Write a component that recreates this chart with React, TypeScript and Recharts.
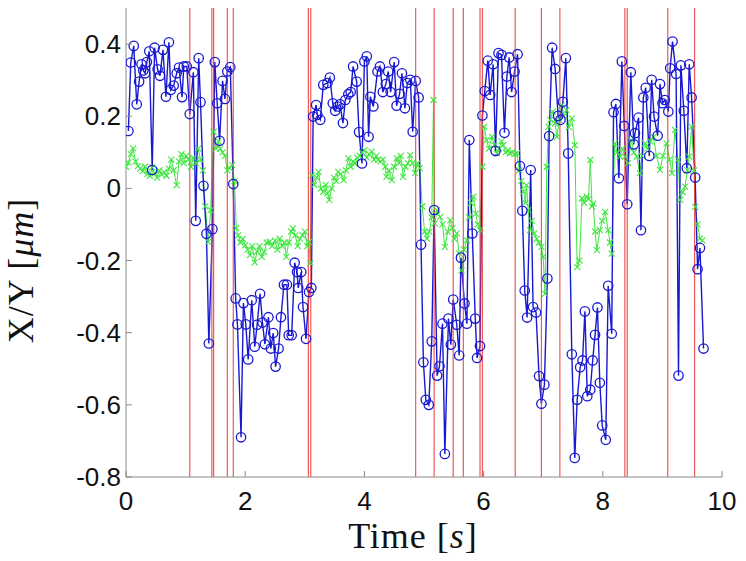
import { LineChart, Line, XAxis, YAxis, ReferenceLine } from 'recharts';

const BLUE = '#1818d2';
const GREEN = '#3ee63e';
const RED = '#ec3c3c';
const AXIS = '#8a8a8a';

// position trace (blue, circles): [time s, value um]
const bluePts: Array<[number, number]> = [
  [0.04, 0.159], [0.08, 0.349], [0.13, 0.395], [0.18, 0.233], [0.22, 0.296], [0.26, 0.344],
  [0.29, 0.327], [0.32, 0.319], [0.35, 0.35], [0.39, 0.38], [0.44, 0.051], [0.48, 0.39],
  [0.53, 0.33], [0.57, 0.312], [0.62, 0.384], [0.67, 0.254], [0.72, 0.405], [0.75, 0.273],
  [0.8, 0.285], [0.85, 0.319], [0.89, 0.335], [0.94, 0.253], [0.97, 0.338], [1.02, 0.338],
  [1.07, 0.206], [1.13, 0.322], [1.17, -0.09], [1.22, 0.361], [1.25, 0.239], [1.3, 0.007],
  [1.35, -0.126], [1.39, -0.43], [1.45, -0.113], [1.49, 0.35], [1.53, 0.236], [1.57, 0.132],
  [1.62, 0.298], [1.66, 0.248], [1.7, 0.324], [1.75, 0.336], [1.8, 0.012], [1.84, -0.305],
  [1.87, -0.377], [1.93, -0.69], [1.97, -0.318], [2.01, -0.377], [2.05, -0.474], [2.11, -0.31],
  [2.16, -0.439], [2.2, -0.378], [2.25, -0.292], [2.29, -0.372], [2.33, -0.432], [2.39, -0.357],
  [2.43, -0.444], [2.47, -0.401], [2.51, -0.494], [2.56, -0.444], [2.6, -0.357], [2.65, -0.267],
  [2.7, -0.267], [2.73, -0.407], [2.78, -0.407], [2.83, -0.206], [2.87, -0.232], [2.89, -0.276],
  [2.94, -0.232], [2.97, -0.329], [3.02, -0.417], [3.07, -0.287], [3.11, -0.276], [3.14, 0.199],
  [3.19, 0.231], [3.21, 0.204], [3.26, 0.19], [3.31, 0.287], [3.38, 0.292], [3.42, 0.307],
  [3.47, 0.236], [3.51, 0.215], [3.55, 0.227], [3.59, 0.233], [3.64, 0.181], [3.68, 0.245],
  [3.73, 0.261], [3.77, 0.267], [3.81, 0.338], [3.87, 0.296], [3.91, 0.156], [3.96, 0.069],
  [4.0, 0.352], [4.04, 0.366], [4.07, 0.143], [4.1, 0.254], [4.15, 0.227], [4.22, 0.324],
  [4.26, 0.338], [4.31, 0.267], [4.36, 0.289], [4.4, 0.324], [4.44, 0.267], [4.5, 0.35],
  [4.54, 0.229], [4.59, 0.262], [4.63, 0.319], [4.68, 0.222], [4.72, 0.292], [4.77, 0.301],
  [4.81, 0.157], [4.86, 0.298], [4.91, 0.252], [4.95, -0.156], [4.99, -0.482], [5.03, -0.586],
  [5.08, -0.6], [5.13, -0.424], [5.17, -0.06], [5.22, -0.519], [5.26, -0.493], [5.31, -0.375],
  [5.35, -0.736], [5.41, -0.361], [5.45, -0.433], [5.49, -0.308], [5.55, -0.378], [5.59, -0.463],
  [5.62, -0.192], [5.68, -0.319], [5.72, -0.375], [5.76, 0.134], [5.81, -0.125], [5.86, -0.361],
  [5.89, -0.47], [5.94, -0.437], [5.98, 0.202], [6.02, 0.27], [6.07, 0.354], [6.11, 0.259],
  [6.16, 0.344], [6.2, 0.104], [6.25, 0.375], [6.3, 0.37], [6.35, 0.154], [6.39, 0.31],
  [6.43, 0.363], [6.47, 0.267], [6.52, 0.324], [6.57, 0.372], [6.61, 0.062], [6.65, -0.062],
  [6.69, -0.283], [6.73, -0.358], [6.79, 0.051], [6.83, -0.329], [6.88, -0.344], [6.93, -0.52],
  [6.97, -0.597], [7.02, -0.544], [7.07, -0.25], [7.1, 0.145], [7.15, 0.39], [7.2, 0.331],
  [7.25, 0.201], [7.29, 0.19], [7.33, 0.24], [7.38, 0.361], [7.42, 0.097], [7.48, -0.46],
  [7.53, -0.747], [7.57, -0.586], [7.62, -0.496], [7.66, -0.477], [7.7, -0.341], [7.74, -0.576],
  [7.79, -0.558], [7.83, -0.477], [7.87, -0.406], [7.91, -0.33], [7.95, -0.539], [7.99, -0.657],
  [8.05, -0.697], [8.09, -0.27], [8.15, -0.403], [8.18, 0.211], [8.22, 0.234], [8.27, 0.028],
  [8.32, 0.352], [8.36, 0.173], [8.41, -0.044], [8.47, 0.322], [8.52, 0.122], [8.54, 0.153],
  [8.6, 0.196], [8.64, -0.116], [8.68, 0.252], [8.72, 0.279], [8.78, 0.09], [8.82, 0.301],
  [8.86, 0.199], [8.92, 0.146], [8.96, 0.289], [9.0, 0.236], [9.04, 0.245], [9.1, 0.213],
  [9.13, 0.333], [9.17, 0.407], [9.23, 0.317], [9.27, -0.519], [9.31, 0.341], [9.36, 0.215],
  [9.41, 0.056], [9.45, 0.344], [9.49, 0.252], [9.55, 0.03], [9.59, -0.224], [9.63, -0.165],
  [9.69, -0.444],
];

// second trace (green, crosses)
const greenPts: Array<[number, number]> = [
  [0.0, 0.06], [0.04, 0.072], [0.08, 0.095], [0.12, 0.111], [0.16, 0.075], [0.2, 0.062],
  [0.24, 0.055], [0.28, 0.048], [0.32, 0.06], [0.36, 0.04], [0.4, 0.035], [0.44, 0.058],
  [0.48, 0.042], [0.52, 0.03], [0.56, 0.05], [0.6, 0.038], [0.64, 0.045], [0.68, 0.035],
  [0.72, 0.055], [0.76, 0.08], [0.8, 0.05], [0.85, 0.009], [0.89, 0.075], [0.93, 0.095],
  [0.97, 0.07], [1.01, 0.09], [1.05, 0.08], [1.09, 0.06], [1.13, 0.085], [1.17, 0.07],
  [1.21, 0.11], [1.25, 0.08], [1.29, 0.05], [1.33, -0.05], [1.38, -0.148], [1.42, -0.06],
  [1.47, 0.157], [1.51, 0.11], [1.55, 0.13], [1.58, 0.11], [1.62, 0.1], [1.66, 0.09],
  [1.7, 0.05], [1.74, 0.056], [1.78, 0.065], [1.82, 0.02], [1.85, -0.11], [1.88, -0.13],
  [1.92, -0.15], [1.96, -0.14], [2.0, -0.157], [2.04, -0.17], [2.08, -0.185], [2.12, -0.16],
  [2.16, -0.205], [2.2, -0.175], [2.24, -0.16], [2.28, -0.19], [2.32, -0.176], [2.36, -0.15],
  [2.41, -0.148], [2.45, -0.16], [2.5, -0.145], [2.54, -0.17], [2.58, -0.139], [2.62, -0.16],
  [2.66, -0.15], [2.69, -0.19], [2.73, -0.15], [2.77, -0.12], [2.8, -0.111], [2.84, -0.13],
  [2.88, -0.16], [2.92, -0.139], [2.96, -0.13], [3.0, -0.12], [3.04, -0.16], [3.07, -0.148],
  [3.09, -0.207], [3.12, 0.037], [3.16, 0.01], [3.2, 0.03], [3.23, 0.046], [3.27, 0.0],
  [3.31, -0.01], [3.35, 0.01], [3.38, -0.014], [3.41, -0.032], [3.45, 0.0], [3.49, 0.03],
  [3.53, 0.02], [3.56, 0.046], [3.6, 0.04], [3.65, 0.023], [3.69, 0.05], [3.73, 0.083],
  [3.77, 0.06], [3.81, 0.075], [3.84, 0.069], [3.88, 0.085], [3.92, 0.09], [3.96, 0.1],
  [4.0, 0.106], [4.04, 0.085], [4.08, 0.095], [4.12, 0.102], [4.16, 0.08], [4.2, 0.09],
  [4.23, 0.079], [4.27, 0.075], [4.31, 0.08], [4.35, 0.06], [4.37, 0.032], [4.41, 0.05],
  [4.46, 0.023], [4.5, 0.06], [4.54, 0.083], [4.58, 0.07], [4.61, 0.09], [4.65, 0.032],
  [4.69, 0.06], [4.73, 0.07], [4.77, 0.092], [4.81, 0.07], [4.85, 0.042], [4.89, 0.07],
  [4.93, 0.056], [4.97, -0.05], [5.01, -0.12], [5.05, -0.139], [5.09, -0.12], [5.13, -0.08],
  [5.16, 0.245], [5.18, -0.097], [5.22, -0.06], [5.27, -0.079], [5.31, -0.1], [5.35, -0.162],
  [5.4, -0.12], [5.44, -0.088], [5.48, -0.11], [5.51, -0.14], [5.55, -0.125], [5.59, -0.18],
  [5.63, -0.227], [5.67, -0.17], [5.72, -0.144], [5.76, -0.08], [5.79, -0.04], [5.83, -0.023],
  [5.87, -0.07], [5.9, -0.1], [5.94, -0.116], [5.98, 0.06], [6.01, 0.171], [6.05, 0.134],
  [6.09, 0.11], [6.14, 0.143], [6.18, 0.12], [6.22, 0.097], [6.26, 0.11], [6.3, 0.13],
  [6.33, 0.12], [6.37, 0.1], [6.41, 0.105], [6.44, 0.097], [6.48, 0.1], [6.52, 0.095],
  [6.56, 0.097], [6.6, 0.05], [6.63, 0.02], [6.67, -0.009], [6.7, -0.04], [6.72, 0.009],
  [6.75, -0.06], [6.78, -0.116], [6.81, -0.09], [6.85, -0.125], [6.89, -0.14], [6.93, -0.15],
  [6.97, -0.162], [7.0, -0.19], [7.03, -0.292], [7.06, 0.06], [7.09, 0.171], [7.12, 0.19],
  [7.16, 0.213], [7.2, 0.18], [7.23, 0.143], [7.27, 0.19], [7.31, 0.231], [7.35, 0.2],
  [7.39, 0.217], [7.43, 0.17], [7.48, 0.194], [7.53, 0.12], [7.57, -0.218], [7.61, -0.2],
  [7.65, -0.028], [7.69, -0.04], [7.73, -0.023], [7.76, -0.03], [7.79, 0.079], [7.82, -0.05],
  [7.84, -0.042], [7.87, -0.12], [7.9, -0.171], [7.95, -0.116], [7.99, -0.09], [8.04, -0.065],
  [8.09, -0.116], [8.12, -0.15], [8.15, -0.181], [8.2, 0.125], [8.24, 0.1], [8.29, 0.088],
  [8.33, 0.11], [8.37, 0.088], [8.42, 0.07], [8.48, 0.134], [8.52, 0.1], [8.57, 0.088],
  [8.62, 0.042], [8.66, 0.09], [8.71, 0.125], [8.75, 0.11], [8.8, 0.13], [8.85, 0.143],
  [8.9, 0.09], [8.96, 0.051], [9.01, 0.09], [9.07, 0.125], [9.12, 0.08], [9.16, 0.042],
  [9.21, 0.162], [9.26, 0.08], [9.3, -0.032], [9.34, -0.01], [9.38, 0.005], [9.42, 0.05],
  [9.45, 0.088], [9.49, 0.171], [9.53, 0.05], [9.55, -0.051], [9.59, -0.1], [9.63, -0.139],
  [9.67, -0.144],
];

// detected switching events (red vertical lines)
const events = [
  1.07, 1.44, 1.47, 1.7, 1.8, 3.06, 3.1, 4.86, 5.17, 5.49, 5.66, 5.94, 5.98, 6.53, 6.97,
  7.28, 8.37, 8.41, 9.09, 9.54,
];

const xTicks = [0, 2, 4, 6, 8, 10];
const yTicks = [-0.8, -0.6, -0.4, -0.2, 0, 0.2, 0.4];

const blueData = bluePts.map(([t, v]) => ({ t, v }));
const greenData = greenPts.map(([t, v]) => ({ t, v }));

const tickFont = { fontFamily: 'Liberation Sans, Arial, sans-serif', fontSize: 26, fill: '#111' };
const labelFont = { fontFamily: 'Liberation Serif, Times New Roman, serif', fontSize: 36, fill: '#111' };

const fmtY = (v: number) => (v === 0 ? '0' : v.toFixed(1));

function XTick({ x, y, payload }: any) {
  return (
    <g>
      <line x1={x} y1={y} x2={x} y2={y - 6} stroke={AXIS} />
      <text x={x} y={y + 33} textAnchor="middle" {...tickFont}>
        {payload.value}
      </text>
    </g>
  );
}

function YTick({ x, y, payload }: any) {
  return (
    <g>
      <line x1={x} y1={y} x2={x + 6} y2={y} stroke={AXIS} />
      <text x={x - 5} y={y + 9} textAnchor="end" {...tickFont}>
        {fmtY(payload.value)}
      </text>
    </g>
  );
}

function CircleDot({ cx, cy, index }: any) {
  return <circle key={index} cx={cx} cy={cy} r={4.7} fill="none" stroke={BLUE} strokeWidth={1.3} />;
}

function CrossDot({ cx, cy, index }: any) {
  const s = 3;
  return (
    <path
      key={index}
      d={`M${cx - s},${cy - s}L${cx + s},${cy + s}M${cx - s},${cy + s}L${cx + s},${cy - s}`}
      stroke={GREEN}
      strokeWidth={1.1}
    />
  );
}

function XLabel({ viewBox }: any) {
  const { x, y, width } = viewBox;
  return (
    <text x={x + width / 2 - 11} y={y + 71} textAnchor="middle" letterSpacing={1} {...labelFont}>
      Time [<tspan fontStyle="italic">s</tspan>]
    </text>
  );
}

function YLabel({ viewBox }: any) {
  const { x, y, height } = viewBox;
  const cx = x + 33;
  const cy = y + height / 2 + 28;
  return (
    <text
      x={cx}
      y={cy}
      textAnchor="middle"
      letterSpacing={1}
      transform={`rotate(-90, ${cx}, ${cy})`}
      {...labelFont}
    >
      X/Y [<tspan fontStyle="italic">μm</tspan>]
    </text>
  );
}

export default function App() {
  return (
    <div style={{ position: 'absolute', left: 0, top: 0, background: '#fff' }}>
      <LineChart width={746} height={561} margin={{ top: 8, right: 24, bottom: 0, left: 0 }}>
        <XAxis
          type="number"
          dataKey="t"
          domain={[0, 10]}
          ticks={xTicks}
          allowDataOverflow
          height={84}
          stroke={AXIS}
          tickSize={0}
          tickMargin={0}
          tickLine={false}
          tick={<XTick />}
          label={<XLabel />}
        />
        <YAxis
          type="number"
          domain={[-0.8, 0.5]}
          ticks={yTicks}
          allowDataOverflow
          width={126}
          stroke={AXIS}
          tickSize={0}
          tickMargin={0}
          tickLine={false}
          tick={<YTick />}
          label={<YLabel />}
        />
        <Line
          data={greenData}
          dataKey="v"
          stroke={GREEN}
          strokeWidth={1}
          dot={<CrossDot />}
          activeDot={false}
          isAnimationActive={false}
        />
        <Line
          data={blueData}
          dataKey="v"
          stroke={BLUE}
          strokeWidth={1.4}
          dot={<CircleDot />}
          activeDot={false}
          isAnimationActive={false}
        />
        {events.map((e) => (
          <ReferenceLine key={e} x={e} stroke={RED} strokeWidth={1.2} strokeOpacity={0.85} />
        ))}
      </LineChart>
    </div>
  );
}
